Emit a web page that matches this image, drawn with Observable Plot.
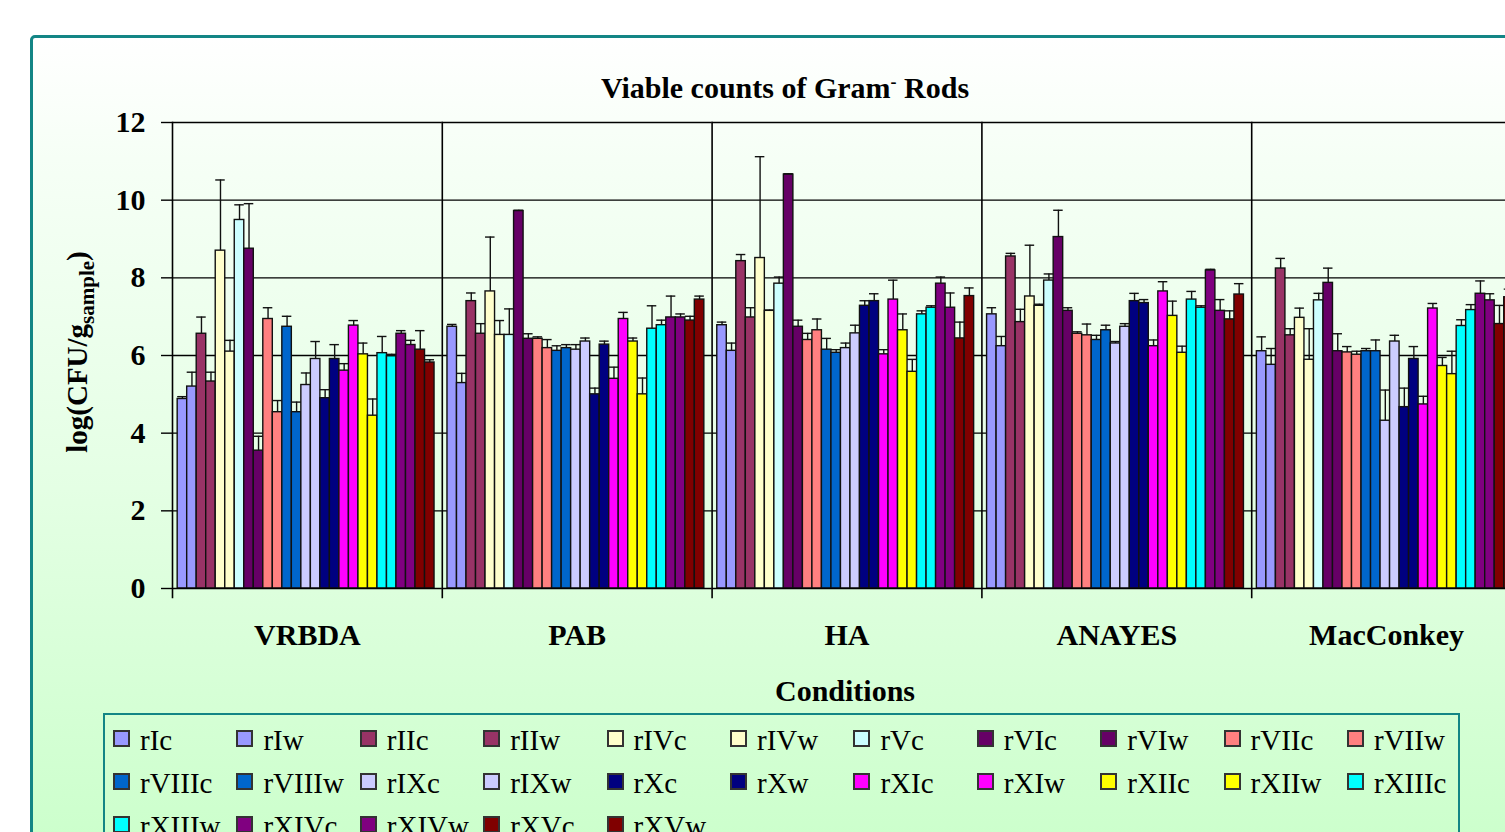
<!DOCTYPE html>
<html>
<head>
<meta charset="utf-8">
<script src="https://cdn.jsdelivr.net/npm/d3@7"></script>
<script src="https://cdn.jsdelivr.net/npm/@observablehq/plot@0.6"></script>
<style>
  html, body { margin: 0; padding: 0; background: #fff; overflow: hidden; }
  #page { position: relative; width: 1505px; height: 832px; overflow: hidden; background: #fff; font-family: "Liberation Serif", "Times New Roman", serif; }
  #frame { position: absolute; left: 30px; top: 35px; width: 1560px; height: 900px; border: 3px solid #138585; border-top-left-radius: 5px;
           background: linear-gradient(to bottom, #ffffff 0px, #f6fff6 120px, #e4ffe4 450px, #ccffcc 800px); box-sizing: border-box; }
  #chart { position: absolute; left: 0; top: 0; }
  .txt { position: absolute; white-space: nowrap; color: #000; font-weight: bold; transform: translate(-50%, -50%); }
  #legend { position: absolute; left: 103px; top: 713px; width: 1357px; height: 200px; border: 2px solid #138585; box-sizing: border-box; }
  .li { position: absolute; white-space: nowrap; font-size: 29px; line-height: 29px; color: #000; }
  .sw { position: absolute; width: 13px; height: 13px; border: 2px solid #333; }
</style>
</head>
<body>
<div id="page">
  <div id="frame"></div>
  <div id="chart"></div>
  <div class="txt" id="title" style="left:785px; top:88px; font-size:30px;">Viable counts of Gram<sup style="font-size:18px; vertical-align: 10px;">-</sup> Rods</div>
  <div class="txt" id="ylab" style="left:80px; top:352px; font-size:29px; transform: translate(-50%,-50%) rotate(-90deg);">log(CFU/g<sub style="font-size:21px; vertical-align:-7px;">sample</sub>)</div>
  <div class="txt" id="xlab" style="left:845px; top:691px; font-size:30px;">Conditions</div>
  <div id="legend"></div>
</div>
<script>
const groups = ["VRBDA", "PAB", "HA", "ANAYES", "MacConkey"];
const series = ["rIc","rIw","rIIc","rIIw","rIVc","rIVw","rVc","rVIc","rVIw","rVIIc","rVIIw",
                "rVIIIc","rVIIIw","rIXc","rIXw","rXc","rXw","rXIc","rXIw","rXIIc","rXIIw","rXIIIc",
                "rXIIIw","rXIVc","rXIVw","rXVc","rXVw"];
const colors = ["#9999FF","#9999FF","#993366","#993366","#FFFFCC","#FFFFCC","#CCFFFF","#660066","#660066","#FF8080","#FF8080",
                "#0066CC","#0066CC","#CCCCFF","#CCCCFF","#000080","#000080","#FF00FF","#FF00FF","#FFFF00","#FFFF00","#00FFFF",
                "#00FFFF","#800080","#800080","#800000","#800000"];
const yTicks = [0, 2, 4, 6, 8, 10, 12];

const vrbda    = [4.88,5.20,6.56,5.33,8.70,6.10,9.49,8.75,3.55,6.94,4.54,6.74,4.54,5.24,5.91,4.90,5.91,5.61,6.77,6.03,4.45,6.06,5.98,6.56,6.27,6.15,5.82];
const vrbdaErr = [0.06,0.37,0.43,0.24,1.82,0.29,0.39,1.16,0.37,0.29,0.30,0.27,0.26,0.31,0.45,0.22,0.37,0.18,0.13,0.29,0.43,0.43,0.05,0.08,0.12,0.49,0.07];
const pab      = [6.74,5.29,7.40,6.56,7.65,6.53,6.53,9.72,6.43,6.43,6.19,6.12,6.19,6.15,6.36,5.00,6.28,5.40,6.94,6.36,5.00,6.69,6.78,6.98,6.98,6.90,7.44];
const pabErr   = [0.06,0.25,0.21,0.26,1.40,0.37,0.67,0.02,0.13,0.05,0.22,0.13,0.09,0.13,0.09,0.16,0.09,0.30,0.17,0.09,0.42,0.59,0.13,0.55,0.09,0.11,0.09];
const ha       = [6.78,6.12,8.43,6.98,8.51,7.15,7.85,10.66,6.74,6.40,6.65,6.15,6.07,6.19,6.57,7.28,7.40,6.03,7.44,6.65,5.58,7.06,7.23,7.85,7.23,6.44,7.53];
const haErr    = [0.08,0.20,0.17,0.25,2.61,0.02,0.17,0.02,0.17,0.17,0.29,0.29,0.08,0.13,0.21,0.13,0.19,0.12,0.50,0.42,0.32,0.09,0.05,0.17,0.38,0.42,0.21];
const anayes   = [7.06,6.24,8.55,6.86,7.52,7.28,7.93,9.05,7.15,6.56,6.52,6.40,6.65,6.31,6.74,7.40,7.35,6.24,7.65,7.02,6.07,7.44,7.23,8.19,7.15,6.93,7.57];
const anayesErr= [0.17,0.25,0.08,0.33,1.32,0.04,0.17,0.69,0.08,0.05,0.29,0.12,0.13,0.05,0.08,0.20,0.09,0.16,0.25,0.38,0.17,0.21,0.05,0.03,0.29,0.22,0.28];
const macconkey    = [6.11,5.76,8.24,6.52,6.97,5.89,7.42,7.87,6.11,6.08,6.02,6.11,6.11,4.32,6.36,4.67,5.91,4.74,7.21,5.73,5.52,6.76,7.17,7.59,7.42,6.81,7.50];
const macconkeyErr = [0.37,0.42,0.26,0.17,0.25,0.80,0.18,0.38,0.45,0.15,0.09,0.07,0.29,0.79,0.16,0.49,0.32,0.21,0.13,0.22,0.59,0.16,0.14,0.33,0.17,0.48,0.21];

const valuesByGroup = [vrbda, pab, ha, anayes, macconkey];
const errByGroup = [vrbdaErr, pabErr, haErr, anayesErr, macconkeyErr];

const data = [];
groups.forEach((g, gi) => {
  series.forEach((s, si) => {
    const v = valuesByGroup[gi][si], e = errByGroup[gi][si];
    data.push({group: g, series: s, value: v, top: v + e});
  });
});

const chart = Plot.plot({
  width: 1560,
  height: 680,
  marginLeft: 172,
  marginRight: 39,
  marginTop: 122,
  marginBottom: 92,
  style: {background: "transparent", maxWidth: "none", fontFamily: "'Liberation Serif', 'Times New Roman', serif", color: "#000", overflow: "visible"},
  fx: {domain: groups, padding: 0, label: null, round: false},
  x: {domain: series, paddingInner: 0, paddingOuter: 0.68, align: 0.4, axis: null, round: false},
  y: {domain: [0, 12], axis: null},
  color: {domain: series, range: colors},
  marks: [
    Plot.ruleY(yTicks.slice(1), {stroke: "#000", strokeWidth: 1.4}),
    Plot.barY(data, {fx: "group", x: "series", y: "value", fill: "series", stroke: "#111", strokeWidth: 1.4}),
    Plot.ruleX(data, {fx: "group", x: "series", y1: "value", y2: "top", stroke: "#111", strokeWidth: 1.4}),
    Plot.tickY(data, {fx: "group", x: "series", y: "top", stroke: "#111", strokeWidth: 1.4}),
    Plot.frame({anchor: "left", insetBottom: -9, stroke: "#000", strokeWidth: 1.6}),
    Plot.ruleY([0], {stroke: "#000", strokeWidth: 1.6}),
    Plot.axisY({ticks: yTicks, tickSize: 11, tickPadding: 16, tickFormat: d => String(d), fontSize: 30, fontWeight: "bold", stroke: "#000", strokeWidth: 1.4, label: null}),
    Plot.axisFx({anchor: "bottom", tickSize: 0, tickPadding: 35, fontSize: 30, fontWeight: "bold", label: null})
  ]
});
document.getElementById("chart").appendChild(chart);

// legend
const legend = document.getElementById("legend");
series.forEach((s, i) => {
  const col = i % 11, row = Math.floor(i / 11);
  const x = 113 + col * 123.4 - 103, y = 730 + row * 43 - 713;
  const sw = document.createElement("div");
  sw.className = "sw";
  sw.style.left = (x - 2) + "px";
  sw.style.top = (y - 2) + "px";
  sw.style.background = colors[i];
  legend.appendChild(sw);
  const t = document.createElement("div");
  t.className = "li";
  t.style.left = (x + 25) + "px";
  t.style.top = (y - 6) + "px";
  t.textContent = s;
  legend.appendChild(t);
});
</script>
</body>
</html>
